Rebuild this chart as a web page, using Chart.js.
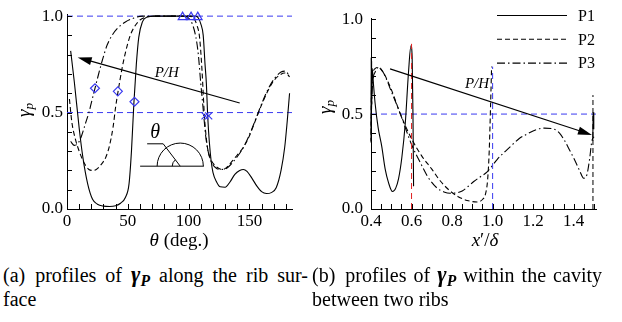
<!DOCTYPE html>
<html>
<head>
<meta charset="utf-8">
<script src="https://cdn.jsdelivr.net/npm/chart.js@4.4.1/dist/chart.umd.min.js"></script>
<style>
  body { margin: 0; width: 622px; height: 322px; background: #fff; position: relative; overflow: hidden;
         font-family: "Liberation Serif", "DejaVu Serif", serif; color: #000; }
  canvas { position: absolute; top: 0; }
  #leftChart { left: 0; }
  #rightChart { left: 300px; }
  .lbl { position: absolute; font-size: 19px; white-space: nowrap; transform: translate(-50%, -50%); }
  .ylbl { transform: translate(-50%, -50%) rotate(-90deg); }
  .cap { position: absolute; font-size: 20px; line-height: 25px; white-space: nowrap; }
  .just { text-align: justify; text-align-last: justify; }
  .g { font-size: 1.12em; }
  sub { font-size: 70%; vertical-align: -0.25em; line-height: 0; }
</style>
</head>
<body>
<canvas id="leftChart" width="310" height="255"></canvas>
<canvas id="rightChart" width="322" height="255"></canvas>

<div class="lbl" style="left:179px; top:240px;"><i>θ</i> (deg.)</div>
<div class="lbl" style="left:485px; top:240px;"><i>x</i>′/<i>δ</i></div>
<div class="lbl ylbl" style="left:24px; top:110px;"><i>γ<sub>p</sub></i></div>
<div class="lbl ylbl" style="left:325px; top:107px;"><i>γ<sub>p</sub></i></div>

<div class="cap just" style="left:3px; top:262px; width:305px;">(a)&ensp;profiles of <i class="g"><b>γ<sub>P</sub></b></i> along the rib sur-</div>
<div class="cap" style="left:3px; top:287px;">face</div>
<div class="cap just" style="left:312px; top:262px; width:290px;">(b)&ensp;profiles of <i class="g"><b>γ<sub>P</sub></b></i> within the cavity</div>
<div class="cap" style="left:312px; top:287px;">between two ribs</div>

<script>
// ---------------- data: (a) along the rib surface ----------------
const thetaP1 = [3, 6, 10, 13, 17, 21, 25, 30, 35, 40, 44, 48, 51, 53, 55, 57, 59, 62, 66, 72, 80, 90, 100, 106, 108, 110, 112, 113.5, 114.6, 115.7, 117, 118.5, 120, 123, 126, 130, 134, 138, 142, 145, 148, 152, 156, 160, 164, 168, 172, 176, 179, 181, 183];
const gammaP1 = [0.82, 0.66, 0.42, 0.27, 0.13, 0.05, 0.025, 0.015, 0.013, 0.017, 0.03, 0.06, 0.13, 0.3, 0.55, 0.75, 0.89, 0.97, 0.995, 1.0, 1.0, 1.0, 1.0, 1.0, 0.99, 0.96, 0.9, 0.75, 0.65, 0.48, 0.35, 0.25, 0.19, 0.14, 0.115, 0.113, 0.14, 0.18, 0.2, 0.205, 0.195, 0.16, 0.12, 0.09, 0.08, 0.085, 0.11, 0.2, 0.32, 0.45, 0.6];

const thetaP2 = [2, 4, 7, 10, 14, 18, 21, 24, 28, 32, 35, 38, 40, 42, 45, 48, 52, 56, 60, 65, 72, 85, 100, 104, 107, 109, 111, 112, 113, 114.5, 116, 118, 121, 125, 128, 132, 136, 140, 145, 150, 155, 160, 165, 170, 175, 179, 181, 183];
const gammaP2 = [0.57, 0.45, 0.36, 0.3, 0.24, 0.205, 0.2, 0.205, 0.23, 0.27, 0.33, 0.43, 0.53, 0.61, 0.72, 0.81, 0.9, 0.95, 0.98, 0.995, 1.0, 1.0, 1.0, 0.99, 0.95, 0.89, 0.72, 0.6, 0.48, 0.37, 0.3, 0.26, 0.23, 0.21, 0.205, 0.22, 0.25, 0.28, 0.32, 0.38, 0.46, 0.54, 0.61, 0.665, 0.695, 0.705, 0.7, 0.685];

const thetaP3 = [3, 6, 9, 12, 15, 18, 20, 23, 26, 29, 33, 37, 42, 48, 55, 62, 70, 95, 100, 103, 106, 108, 110, 111.5, 112.5, 114, 116, 119, 123, 127, 131, 136, 141, 146, 151, 156, 161, 166, 171, 176, 179.5, 183];
const gammaP3 = [0.35, 0.33, 0.34, 0.38, 0.44, 0.5, 0.55, 0.626, 0.7, 0.77, 0.85, 0.9, 0.94, 0.97, 0.99, 1.0, 1.0, 1.0, 0.99, 0.96, 0.89, 0.8, 0.65, 0.55, 0.48, 0.38, 0.3, 0.24, 0.21, 0.205, 0.21, 0.24, 0.28, 0.33, 0.4, 0.48, 0.56, 0.63, 0.68, 0.71, 0.715, 0.69];

// blue markers on (a)
const diamondTheta = [23, 41.8, 55.5];
const diamondGamma = [0.626, 0.61, 0.556];
const triTheta = [95, 102, 107.5];
const triGamma = [0.995, 0.995, 0.995];
const crossTheta = [113.5, 116.5];
const crossGamma = [0.483, 0.483];

const leftXTicks = [0, 50, 100, 150];
const leftRefY = [1.0, 0.5];
const leftArrow = [[142, 0.55], [8.8, 0.786]];   // tail, head
const leftArrowText = [82, 0.707];
// inset sketch: centre, radius (deg units), end of radius line, end of short horizontal
const insetCentre = [93.1, 0.222];
const insetRadius = 19;
const insetKnee = [79.1, 0.338];
const insetTail = [65.9, 0.338];
const insetLabel = [72.5, 0.395];

// ---------------- data: (b) within the cavity ----------------
const xP1 = [0.400, 0.401, 0.402, 0.403, 0.404, 0.406, 0.412, 0.42, 0.435, 0.453, 0.47, 0.486, 0.506, 0.522, 0.536, 0.552, 0.569, 0.585, 0.597, 0.603, 0.607, 0.61];
const yP1 = [0.40, 0.80, 0.38, 0.78, 0.55, 0.74, 0.66, 0.56, 0.43, 0.33, 0.21, 0.14, 0.092, 0.11, 0.16, 0.27, 0.45, 0.72, 0.86, 0.80, 0.50, 0.12];
const xP1b = [1.494, 1.496, 1.498, 1.5];
const yP1b = [0.36, 0.51, 0.42, 0.48];

const xP2 = [0.400, 0.402, 0.405, 0.41, 0.42, 0.436, 0.46, 0.5, 0.545, 0.6, 0.65, 0.70, 0.74, 0.79, 0.83, 0.874, 0.924, 0.95, 0.965, 0.975, 0.983, 0.99, 0.995];
const yP2 = [0.35, 0.6, 0.68, 0.72, 0.74, 0.746, 0.72, 0.63, 0.5, 0.37, 0.28, 0.21, 0.15, 0.095, 0.065, 0.045, 0.037, 0.05, 0.08, 0.15, 0.3, 0.55, 0.75];
const xP2b = [1.495, 1.495];
const yP2b = [0.0, 0.6];

const xP3 = [0.400, 0.403, 0.41, 0.42, 0.436, 0.46, 0.5, 0.545, 0.6, 0.65, 0.68, 0.726, 0.76, 0.79, 0.82, 0.85, 0.88, 0.907, 0.94, 0.973, 1.023, 1.089, 1.13, 1.172, 1.215, 1.255, 1.304, 1.33, 1.354, 1.38, 1.403, 1.43, 1.449, 1.465, 1.478, 1.49, 1.5];
const yP3 = [0.36, 0.55, 0.68, 0.72, 0.745, 0.72, 0.62, 0.5, 0.34, 0.23, 0.17, 0.11, 0.09, 0.083, 0.085, 0.095, 0.12, 0.145, 0.17, 0.195, 0.262, 0.33, 0.37, 0.396, 0.418, 0.426, 0.42, 0.4, 0.362, 0.31, 0.262, 0.2, 0.162, 0.18, 0.26, 0.36, 0.38];

const rightXTicks = [0.4, 0.6, 0.8, 1.0, 1.2, 1.4];
const rightRefY = 0.5;
const redLineX = 0.6, redLineTop = 0.87;
const blueLineX = 1.0, blueLineTop = 0.75;
const rightArrow = [[0.494, 0.738], [1.49, 0.39]];
const rightArrowText = [0.923, 0.658];

const yTicks = [0, 0.5, 1.0];
const seriesNames = ["P1", "P2", "P3"];

// ---------------- styles ----------------
const FONT = '"Liberation Serif", "DejaVu Serif", serif';
const BLUE = "#3a3af0";
const DASH_P2 = [5, 3];
const DASH_P3 = [8, 3, 1.5, 3];
const lineDash = [null, DASH_P2, DASH_P3];

const pts = (xs, ys) => xs.map((x, i) => ({ x: x, y: ys[i] }));

function curve(xs, ys, dash, extra) {
  return Object.assign({
    data: pts(xs, ys), borderColor: "#000", borderWidth: 1.1, borderDash: dash || [],
    pointRadius: 0, showLine: true, fill: false, cubicInterpolationMode: "monotone", order: 2
  }, extra || {});
}
function straight(xs, ys, color, dash, order) {
  return { data: pts(xs, ys), borderColor: color, borderWidth: 1, borderDash: dash,
           pointRadius: 0, showLine: true, fill: false, tension: 0, order: order == null ? 3 : order };
}
function markers(xs, ys, style, r) {
  return { data: pts(xs, ys), showLine: false, pointStyle: style, pointRadius: r, order: 0,
           pointBorderColor: BLUE, pointBackgroundColor: "rgba(0,0,0,0)", pointBorderWidth: 1.2 };
}

function scales(xMin, xMax, yMax, xTicks, xFmt, yWidth, yPad) {
  return {
    x: {
      type: "linear", min: xMin, max: xMax,
      grid: { display: false, drawTicks: false },
      border: { display: true, color: "#000", width: 1 },
      ticks: { color: "#000", font: { family: FONT, size: 17 }, padding: 2, maxRotation: 0, autoSkip: false, callback: xFmt },
      afterBuildTicks: s => { s.ticks = xTicks.map(v => ({ value: v })); },
      afterFit: s => { s.height = 46; }
    },
    y: {
      type: "linear", min: 0, max: yMax,
      grid: { display: false, drawTicks: false },
      border: { display: true, color: "#000", width: 1 },
      ticks: { color: "#000", font: { family: FONT, size: 17 }, padding: yPad, callback: v => v.toFixed(1) },
      afterBuildTicks: s => { s.ticks = yTicks.map(v => ({ value: v })); },
      afterFit: s => { s.width = yWidth; }
    }
  };
}

// inward minor ticks, arrows, labels, inset sketch and legend
const extras = {
  id: "extras",
  afterDatasetsDraw(chart, args, o) {
    const ctx = chart.ctx, xs = chart.scales.x, ys = chart.scales.y, a = chart.chartArea;
    const px = v => xs.getPixelForValue(v), py = v => ys.getPixelForValue(v);
    ctx.save();
    ctx.strokeStyle = "#000"; ctx.fillStyle = "#000"; ctx.lineWidth = 1;

    ctx.beginPath();
    for (let v = o.xMinor[0]; v <= o.xMinor[1] + 1e-9; v += o.xMinor[2]) {
      const x = Math.round(px(v)) + 0.5;
      ctx.moveTo(x, a.bottom); ctx.lineTo(x, a.bottom - 5);
    }
    for (let v = 0; v <= 1.0001; v += 0.1) {
      const y = Math.round(py(v)) + 0.5;
      ctx.moveTo(a.left, y); ctx.lineTo(a.left + 5, y);
    }
    ctx.stroke();

    // arrow
    const [t, h] = o.arrow;
    const x0 = px(t[0]), y0 = py(t[1]), x1 = px(h[0]), y1 = py(h[1]);
    const ang = Math.atan2(y1 - y0, x1 - x0);
    ctx.lineWidth = 1.1;
    ctx.beginPath(); ctx.moveTo(x0, y0); ctx.lineTo(x1 - 10 * Math.cos(ang), y1 - 10 * Math.sin(ang)); ctx.stroke();
    ctx.beginPath();
    ctx.moveTo(x1, y1);
    ctx.lineTo(x1 - 14 * Math.cos(ang) + 4 * Math.sin(ang), y1 - 14 * Math.sin(ang) - 4 * Math.cos(ang));
    ctx.lineTo(x1 - 14 * Math.cos(ang) - 4 * Math.sin(ang), y1 - 14 * Math.sin(ang) + 4 * Math.cos(ang));
    ctx.closePath(); ctx.fill();

    ctx.font = "italic 15px " + FONT;
    ctx.textAlign = "center"; ctx.textBaseline = "middle";
    ctx.fillText("P/H", px(o.arrowText[0]), py(o.arrowText[1]));

    if (o.inset) {
      const cx = px(insetCentre[0]), cy = py(insetCentre[1]);
      const r = px(insetCentre[0] + insetRadius) - cx;
      const kx = px(insetKnee[0]), ky = py(insetKnee[1]);
      ctx.lineWidth = 1;
      ctx.beginPath();
      ctx.moveTo(cx - r - 17, cy); ctx.lineTo(cx + r + 0.5, cy);
      ctx.moveTo(cx + r, cy); ctx.arc(cx, cy, r, 0, Math.PI, true);
      ctx.moveTo(cx, cy); ctx.lineTo(kx, ky); ctx.lineTo(px(insetTail[0]), py(insetTail[1]));
      ctx.stroke();
      const da = Math.atan2(ky - cy, kx - cx);
      ctx.beginPath(); ctx.arc(cx, cy, 8, Math.PI, da + 2 * Math.PI); ctx.stroke();
      ctx.font = "italic 20px " + FONT;
      ctx.fillText("θ", px(insetLabel[0]), py(insetLabel[1]));
    }

    if (o.legend) {
      ctx.textAlign = "left";
      ctx.font = "16px " + FONT;
      ctx.lineWidth = 1.1;
      seriesNames.forEach((name, i) => {
        const y = 15.5 + i * 23.8;
        ctx.setLineDash(lineDash[i] || []);
        ctx.beginPath(); ctx.moveTo(197, y); ctx.lineTo(267, y); ctx.stroke();
        ctx.setLineDash([]);
        ctx.fillText(name, 278, y + 1);
      });
    }
    ctx.restore();
  }
};

// ---------------- chart (a) ----------------
new Chart(document.getElementById("leftChart"), {
  type: "line",
  data: {
    datasets: [
      straight([0, 185], [leftRefY[0], leftRefY[0]], BLUE, [6, 4]),
      straight([0, 185], [leftRefY[1], leftRefY[1]], BLUE, [6, 4]),
      curve(thetaP1, gammaP1, null),
      curve(thetaP2, gammaP2, DASH_P2),
      curve(thetaP3, gammaP3, DASH_P3),
      markers(diamondTheta, diamondGamma, "rectRot", 4.5),
      markers(triTheta, triGamma, "triangle", 5),
      markers(crossTheta, crossGamma, "crossRot", 5)
    ]
  },
  options: {
    responsive: false, animation: false, clip: false,
    layout: { padding: { left: 0, right: 18, top: 9, bottom: 0 } },
    plugins: {
      legend: { display: false }, tooltip: { enabled: false },
      extras: { xMinor: [0, 180, 10], arrow: leftArrow, arrowText: leftArrowText, inset: true, legend: false }
    },
    scales: scales(0, 185, 1.01, leftXTicks, v => String(v), 67, 4)
  },
  plugins: [extras]
});

// ---------------- chart (b) ----------------
new Chart(document.getElementById("rightChart"), {
  type: "line",
  data: {
    datasets: [
      straight([0.4, 1.51], [rightRefY, rightRefY], BLUE, [6, 4]),
      straight([redLineX, redLineX], [0, redLineTop], "#e02020", [6, 4], 1),
      straight([blueLineX, blueLineX], [0, blueLineTop], BLUE, [6, 4], 1),
      curve(xP1, yP1, null),
      curve(xP1b, yP1b, null, { cubicInterpolationMode: "default", tension: 0 }),
      curve(xP2, yP2, DASH_P2),
      straight(xP2b, yP2b, "#000", DASH_P2, 2),
      curve(xP3, yP3, DASH_P3)
    ]
  },
  options: {
    responsive: false, animation: false, clip: false,
    layout: { padding: { left: 0, right: 26, top: 8, bottom: 0 } },
    plugins: {
      legend: { display: false }, tooltip: { enabled: false },
      extras: { xMinor: [0.4, 1.5, 0.05], arrow: rightArrow, arrowText: rightArrowText, inset: false, legend: true }
    },
    scales: scales(0.4, 1.51, 1.005, rightXTicks, v => v.toFixed(1), 71, 8)
  },
  plugins: [extras]
});
</script>
</body>
</html>
